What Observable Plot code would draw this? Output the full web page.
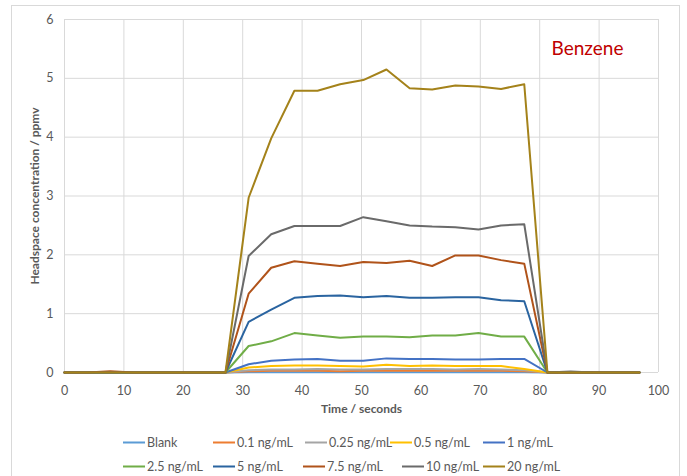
<!DOCTYPE html>
<html><head><meta charset="utf-8">
<script src="https://cdn.jsdelivr.net/npm/d3@7"></script>
<script src="https://cdn.jsdelivr.net/npm/@observablehq/plot@0.6"></script>
<style>
body{margin:0;background:#fff;font-family:Lato,"Open Sans",sans-serif;}
#wrap{position:relative;width:687px;height:476px;overflow:hidden;background:#fff}
#frame{position:absolute;left:11px;top:5px;width:669px;height:490px;border:1px solid #d9d9d9;box-sizing:border-box;pointer-events:none}
#chart{position:absolute;left:0;top:0}
#legend{position:absolute;left:0;top:420px;width:687px;height:56px}
.item{position:absolute;display:flex;align-items:center;font-size:12.5px;color:#595959;white-space:nowrap;transform:translateY(-50%)}
.sw{width:22px;height:2px;margin-right:2px}
</style>
</head><body>
<div id="wrap"><div id="chart"></div><div id="legend"></div><div id="frame"></div></div>
<script>
const times = [0, 3.9, 7.7, 11.6, 15.5, 19.4, 23.2, 27.1, 31.0, 34.8, 38.7, 42.6, 46.4, 50.3, 54.2, 58.1, 61.9, 65.8, 69.7, 73.5, 77.4, 81.3, 85.2, 89.0, 92.9, 96.8];
const seriesNames = ["Blank","0.1 ng/mL","0.25 ng/mL","0.5 ng/mL","1 ng/mL","2.5 ng/mL","5 ng/mL","7.5 ng/mL","10 ng/mL","20 ng/mL"];
const seriesColors = ["#5B9BD5","#ED7D31","#A5A5A5","#FFC000","#4472C4","#70AD47","#2A64A0","#B0531A","#6A6A6A","#A4821A"];
const blank = [0,0,0,0,0,0,0,0, 0.005,0.005,0.005,0.005,0.005,0.005,0.005,0.005,0.005,0.005,0.005,0.005,0.005, 0,0,0,0,0];
const c0_1  = [0,0,0,0,0,0,0,0, 0.02,0.03,0.03,0.03,0.02,0.03,0.03,0.03,0.03,0.03,0.03,0.03,0.02, 0,0,0,0,0];
const c0_25 = [0,0,0,0,0,0,0,0, 0.04,0.05,0.05,0.06,0.05,0.05,0.06,0.06,0.06,0.05,0.06,0.05,0.04, 0,0,0,0,0];
const c0_5  = [0,0,0,0,0,0,0,0, 0.085,0.11,0.12,0.12,0.11,0.10,0.13,0.11,0.12,0.11,0.11,0.11,0.06, 0,0,0,0,0];
const c1    = [0,0,0,0,0,0,0,0, 0.14,0.20,0.22,0.23,0.20,0.20,0.24,0.23,0.23,0.22,0.22,0.23,0.23, 0,0,0,0,0];
const c2_5  = [0,0,0,0,0,0,0,0, 0.45,0.53,0.67,0.63,0.59,0.61,0.61,0.60,0.63,0.63,0.67,0.61,0.61, 0,0,0,0,0];
const c5    = [0,0,0,0,0,0,0,0, 0.86,1.07,1.27,1.30,1.31,1.28,1.30,1.27,1.27,1.28,1.28,1.23,1.21, 0,0,0,0,0];
const c7_5  = [0,0,0.02,0,0,0,0,0, 1.34,1.78,1.89,1.85,1.81,1.88,1.86,1.90,1.81,1.99,1.99,1.91,1.85, 0,0,0,0,0];
const c10   = [0,0,0,0,0,0,0,0, 1.98,2.35,2.49,2.49,2.49,2.64,2.57,2.50,2.48,2.47,2.43,2.50,2.52, 0,0.015,0,0,0];
const c20   = [0,0,0,0,0,0,0,0, 2.97,3.98,4.79,4.79,4.90,4.97,5.15,4.83,4.81,4.88,4.86,4.82,4.90, 0,0,0,0,0];
const allValues = [blank,c0_1,c0_25,c0_5,c1,c2_5,c5,c7_5,c10,c20];
const xTicks = [0,10,20,30,40,50,60,70,80,90,100];
const yTicks = [0,1,2,3,4,5,6];

const table = [];
seriesNames.forEach((s,i)=>{ allValues[i].forEach((v,j)=>table.push({s, t: times[j], v})); });

const fontFam = "Lato, 'Open Sans', sans-serif";
const chart = Plot.plot({
  width: 687, height: 420,
  marginLeft: 64, marginRight: 29, marginTop: 19, marginBottom: 48,
  style: {fontFamily: fontFam, background: "transparent"},
  x: {domain: [0,100]},
  y: {domain: [0,6]},
  color: {domain: seriesNames, range: seriesColors},
  marks: [
    Plot.gridX(xTicks, {stroke: "#d9d9d9", strokeOpacity: 1}),
    Plot.gridY(yTicks, {stroke: "#d9d9d9", strokeOpacity: 1}),
    Plot.axisX(xTicks, {tickSize: 0, tickPadding: 14, label: null, fontSize: 12.5, fill: "#595959", tickFormat: d => String(d)}),
    Plot.axisY(yTicks, {tickSize: 0, tickPadding: 11, label: null, fontSize: 12.5, fill: "#595959", tickFormat: d => String(d)}),
    Plot.line(table, {x: "t", y: "v", z: "s", stroke: "s", strokeWidth: 2, strokeLinejoin: "round"}),
    Plot.text(["Time / seconds"], {frameAnchor: "bottom", dy: 40, fontWeight: "bold", fontSize: 12, fill: "#595959"}),
    Plot.text(["Headspace concentration / ppmv"], {frameAnchor: "left", textAnchor: "middle", dx: -29, rotate: -90, fontWeight: "bold", fontSize: 12, fill: "#595959"}),
    Plot.text(["Benzene"], {frameAnchor: "top-right", dx: -71, dy: 29, textAnchor: "middle", lineAnchor: "middle", fontSize: 19, fill: "#C00000"})
  ]
});
document.getElementById("chart").appendChild(chart);

const legendX = [[123,213,305,390,483],[123,213,303,402,483]];
const legendY = [22, 46];
const leg = document.getElementById("legend");
seriesNames.forEach((s,i)=>{
  const r = Math.floor(i/5), c = i%5;
  const d = document.createElement("div");
  d.className = "item";
  d.style.left = legendX[r][c] + "px";
  d.style.top = legendY[r] + "px";
  d.innerHTML = `<span class="sw" style="background:${seriesColors[i]}"></span><span>${s}</span>`;
  leg.appendChild(d);
});
</script>
</body></html>
